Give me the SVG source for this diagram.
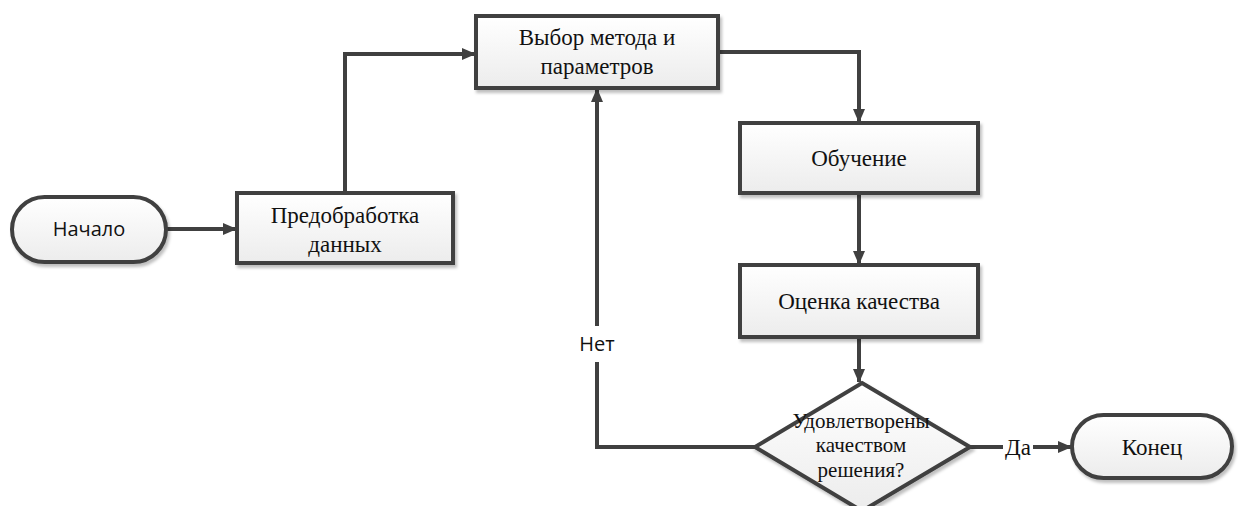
<svg xmlns="http://www.w3.org/2000/svg" width="1238" height="506" viewBox="0 0 1238 506">
  <defs>
    <linearGradient id="fillGrad" x1="0" y1="0" x2="0" y2="1">
      <stop offset="0" stop-color="#ffffff"/>
      <stop offset="1" stop-color="#ececec"/>
    </linearGradient>
    <filter id="shadow" x="-10%" y="-10%" width="130%" height="140%">
      <feDropShadow dx="2" dy="3" stdDeviation="1.5" flood-color="#000" flood-opacity="0.25"/>
    </filter>
    <marker id="arrow" viewBox="0 0 14 12" refX="13" refY="6" markerWidth="14" markerHeight="12" markerUnits="userSpaceOnUse" orient="auto">
      <path d="M0,0 L14,6 L0,12 Z" fill="#404040"/>
    </marker>
  </defs>
  <style>
    .shape { fill: url(#fillGrad); stroke: #404040; stroke-width: 4; filter: url(#shadow); }
    .serif { font-family: "Liberation Serif", "Times New Roman", serif; font-size: 23px; fill: #111; text-anchor: middle; }
    .small { font-size: 21px; }
    .sans { font-family: "Open Sans", "Liberation Sans", sans-serif; font-size: 20px; fill: #111; text-anchor: middle; }
    .conn { fill: none; stroke: #404040; stroke-width: 4; }
  </style>

  <rect width="1238" height="506" fill="#ffffff"/>

  <g id="connectors">
    <path class="conn" d="M166,229 L236,229" marker-end="url(#arrow)"/>
    <path class="conn" d="M345,193 L345,54 L475,54" marker-end="url(#arrow)"/>
    <path class="conn" d="M718,52 L859,52 L859,122" marker-end="url(#arrow)"/>
    <path class="conn" d="M859,193 L859,264" marker-end="url(#arrow)"/>
    <path class="conn" d="M859,337 L859,382" marker-end="url(#arrow)"/>
    <path class="conn" d="M755,447 L597,447 L597,362"/>
    <path class="conn" d="M597,326 L597,89" marker-end="url(#arrow)"/>
    <path class="conn" d="M970,447 L1003,447"/>
    <path class="conn" d="M1033,447 L1071,447" marker-end="url(#arrow)"/>
    <text class="sans" x="597" y="351">Нет</text>
    <text class="serif" x="1018" y="455">Да</text>
  </g>

  <g id="start">
    <rect class="shape" x="12" y="197" width="154" height="65" rx="32.5" ry="32.5"/>
    <text class="sans" x="89" y="236">Начало</text>
  </g>

  <g id="preprocess">
    <rect class="shape" x="237" y="193" width="216" height="70"/>
    <text class="serif" x="345" y="223">Предобработка</text>
    <text class="serif" x="345" y="252">данных</text>
  </g>

  <g id="select">
    <rect class="shape" x="476" y="16" width="242" height="72"/>
    <text class="serif" x="597" y="45">Выбор метода и</text>
    <text class="serif" x="597" y="74">параметров</text>
  </g>

  <g id="train">
    <rect class="shape" x="740" y="123" width="238" height="70"/>
    <text class="serif" x="859" y="166">Обучение</text>
  </g>

  <g id="evaluate">
    <rect class="shape" x="740" y="265" width="238" height="72"/>
    <text class="serif" x="859" y="309">Оценка качества</text>
  </g>

  <g id="decision">
    <polygon class="shape" points="862,383 970,447 862,511 755,447"/>
    <text class="serif small" x="861" y="428">Удовлетворены</text>
    <text class="serif small" x="861" y="452">качеством</text>
    <text class="serif small" x="861" y="477">решения?</text>
  </g>

  <g id="end">
    <rect class="shape" x="1072" y="415" width="160" height="63" rx="31.5" ry="31.5"/>
    <text class="serif" x="1152" y="455">Конец</text>
  </g>
</svg>
